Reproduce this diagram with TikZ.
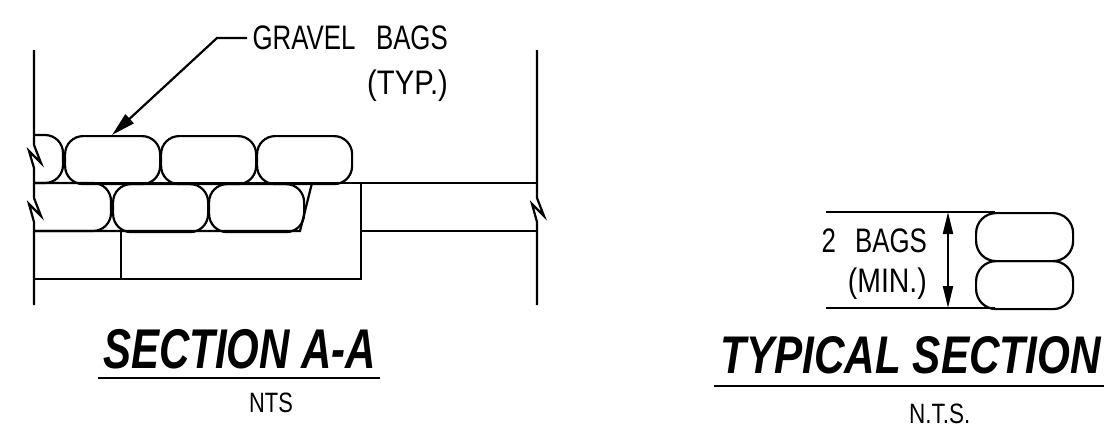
\documentclass[tikz,border=0pt]{standalone}
\usepackage{fontspec}
\setmainfont{Liberation Sans}
\usetikzlibrary{arrows.meta}
\tikzset{
 ln/.style={line width=2.2pt,line cap=butt,line join=miter},
 bag/.style={draw,line width=2.2pt,rounded corners=18pt,minimum width=95pt,minimum height=48pt,inner sep=0pt,anchor=north west},
 note/.style={inner sep=0pt,font=\fontsize{34}{34}\selectfont,anchor=base east,xscale=0.76},
 small/.style={inner sep=0pt,font=\fontsize{28}{28}\selectfont,anchor=base west,xscale=0.78},
 ttl/.style={inner sep=0pt,font=\bfseries\itshape\fontsize{56}{56}\selectfont,anchor=base west,xscale=0.75},
 lead/.style={ln,-{Triangle[length=24pt,width=12pt]}},
 dimarr/.style={ln,{Triangle[length=22pt,width=10pt]}-{Triangle[length=22pt,width=10pt]}},
}
\begin{document}
\begin{tikzpicture}[x=1pt,y=-1pt]
\useasboundingbox (0,0) rectangle (1109,440);
% left wall
\coordinate (wt) at (34,50); \coordinate (wb) at (34,305);
\draw[ln] (wt) -- (34,145) -- (41,163) -- (29,151) -- (34,168) -- (34,198) -- (41,216) -- (29,204) -- (34,222) -- (wb);
% right wall
\coordinate (rt) at (537,50); \coordinate (rb) at (537,305);
\draw[ln] (rt) -- (537,198) -- (544,216) -- (532,204) -- (537,222) -- (rb);
% partial bags
\draw[ln,rounded corners=18pt] (34,135) -- (63,135) -- (63,183) -- (34,183);
\draw[ln,rounded corners=18pt] (34,183) -- (111,183) -- (111,231) -- (34,231);
% bags
\node[bag] (b1) at (64,135) {};
\node[bag] (b2) at (160,135) {};
\node[bag] (b3) at (256,135) {};
\node[bag] (b4) at (112,183) {};
\node[bag] (b5) at (208,183) {};
% ground lines
\draw[ln] (34,183) -- (537,183);
\draw[ln] (34,231) -- (300,231) -- (312,183);
\draw[ln] (361,231) -- (537,231);
\draw[ln] (34,279) -- (361,279) -- (361,183);
\draw[ln] (121,231) -- (121,279);
% leader
\node[note] (gb) at (448,49) {GRAVEL\hspace{27pt}BAGS};
\node[note,xscale=1.13] (typ) at (448,94) {(TYP.)};
\coordinate (lk) at (217,38);
\coordinate (lt) at (112,135);
\draw[lead] (247,38) -- (lk) -- (lt);
% title left
\node[ttl] (t1) at (103,368) {SECTION A-A};
\coordinate (u1a) at (98,378); \coordinate (u1b) at (380,378);
\draw[ln] (u1a) -- (u1b);
\node[small] (nts) at (249,412) {NTS};
% right detail
\coordinate (d1) at (826,212); \coordinate (d2) at (826,308);
\node[bag,minimum width=97pt,rounded corners=20pt] (c1) at (975,212) {};
\node[bag,minimum width=97pt,rounded corners=20pt] (c2) at (975,260) {};
\draw[ln] (d1) -- (995,212);
\draw[ln] (d2) -- (995,308);
\coordinate (a1) at (948,212); \coordinate (a2) at (948,308);
\draw[dimarr] (a1) -- (a2);
\node[note] (bg) at (927,252) {2\hspace{25pt}BAGS};
\node[note,xscale=1.1] (mn) at (927,292) {(MIN.)};
\node[ttl,font=\bfseries\itshape\fontsize{53}{53}\selectfont,xscale=1.064] (t2) at (720,373) {TYPICAL SECTION};
\coordinate (u2a) at (714,386); \coordinate (u2b) at (1104,386);
\draw[ln] (u2a) -- (u2b);
\node[small,xscale=1.03] (nts2) at (909,423) {N.T.S.};
\end{tikzpicture}
\end{document}
